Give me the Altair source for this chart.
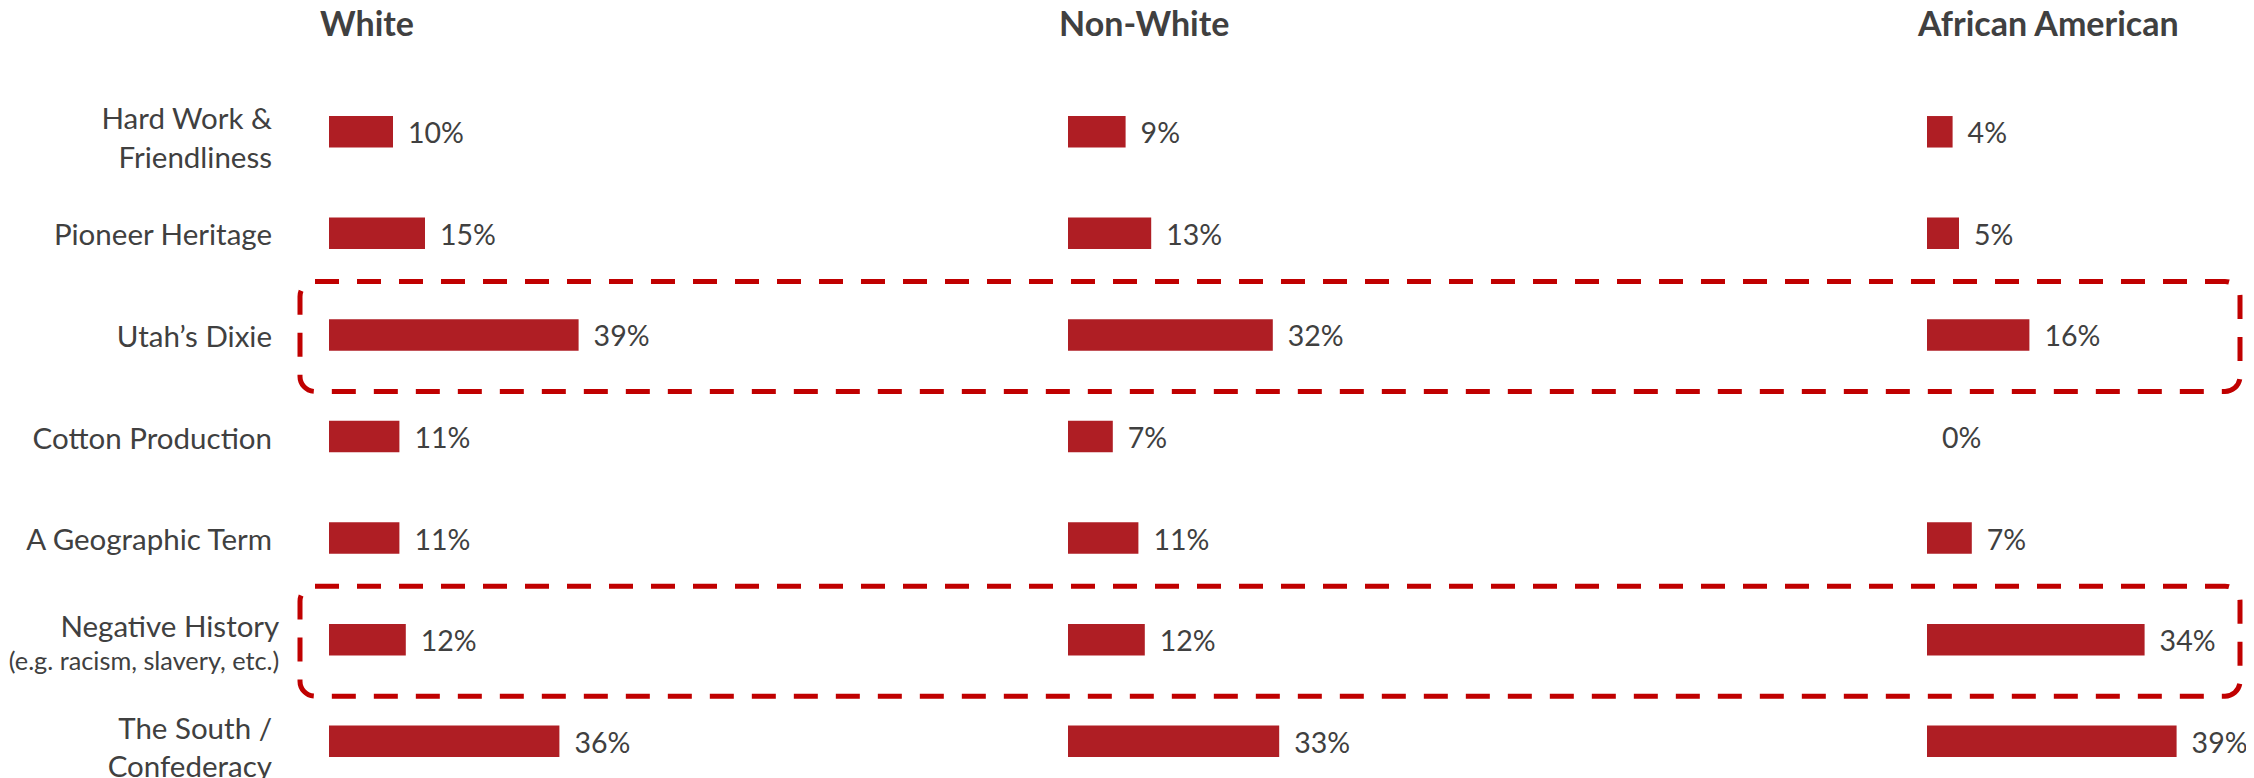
import altair as alt
import pandas as pd

# ---------------- data ----------------
categories = [
    "Hard Work & Friendliness",
    "Pioneer Heritage",
    "Utah’s Dixie",
    "Cotton Production",
    "A Geographic Term",
    "Negative History",
    "The South / Confederacy",
]
category_labels = [
    "Hard Work &\nFriendliness",
    "Pioneer Heritage",
    "Utah’s Dixie",
    "Cotton Production",
    "A Geographic Term",
    "Negative History",
    "The South /\nConfederacy",
]
category_notes = ["", "", "", "", "", "(e.g. racism, slavery, etc.)", ""]
groups = ["White", "Non-White", "African American"]
white = [10, 15, 39, 11, 11, 12, 36]
non_white = [9, 13, 32, 7, 11, 12, 33]
african_american = [4, 5, 16, 0, 7, 34, 39]
highlighted = ["Utah’s Dixie", "Negative History"]

# ---------------- style ----------------
FONT = "Lato"
TEXT = "#404040"
BAR = "#AF1E24"
BOX = "#C00000"
PX_PER_PCT = 6.4
PANEL_W = [739, 859, 315]
PLOT_H = 711
BAR_H = 31.5
LABEL_FS = 29.5
VALUE_FS = 28.5
NOTE_FS = 25.3
TITLE_FS = 34


def panel(i, name, vals):
    df = pd.DataFrame({
        "category": categories,
        "label": category_labels,
        "note": category_notes,
        "value": vals,
        "multi": ["\n" in s for s in category_labels],
        "hl": [c in highlighted for c in categories],
    })
    base = alt.Chart(df)
    y = alt.Y("category:N", sort=categories, axis=None,
              scale=alt.Scale(paddingInner=0, paddingOuter=0))
    xs = alt.Scale(domain=[0, PANEL_W[i] / PX_PER_PCT], nice=False, zero=True)
    x = alt.X("value:Q", scale=xs, axis=None)

    bars = base.mark_bar(size=BAR_H, color=BAR).encode(x=x, y=y)
    vtext = base.transform_calculate(txt="datum.value + '%'").mark_text(
        align="left", baseline="alphabetic", dx=15, dy=11.5,
        font=FONT, fontSize=VALUE_FS, color=TEXT
    ).encode(x=x, y=y, text="txt:N")
    layers = [bars, vtext]

    if i == 0:
        single = base.transform_filter("!datum.multi && datum.note == ''").mark_text(
            align="right", baseline="alphabetic", dy=12,
            font=FONT, fontSize=LABEL_FS, color=TEXT
        ).encode(x=alt.value(-57), y=y, text="label:N")
        multi = base.transform_filter("datum.multi").mark_text(
            align="right", baseline="alphabetic", dy=-2.5, lineBreak="\n", lineHeight=38.3,
            font=FONT, fontSize=LABEL_FS, color=TEXT
        ).encode(x=alt.value(-57), y=y, text="label:N")
        neg1 = base.transform_filter("datum.note != ''").mark_text(
            align="right", baseline="alphabetic", dy=-3,
            font=FONT, fontSize=LABEL_FS, color=TEXT
        ).encode(x=alt.value(-49.7), y=y, text="label:N")
        neg2 = base.transform_filter("datum.note != ''").mark_text(
            align="right", baseline="alphabetic", dy=30.3,
            font=FONT, fontSize=NOTE_FS, color=TEXT
        ).encode(x=alt.value(-49.7), y=y, text="note:N")
        box = base.transform_filter("datum.hl").mark_bar(
            size=110, fillOpacity=0, stroke=BOX, strokeWidth=5,
            strokeDash=[24, 18], cornerRadius=15, yOffset=1.5
        ).encode(x=alt.value(-29), x2=alt.value(sum(PANEL_W) - 2), y=y)
        layers += [single, multi, neg1, neg2, box]

    return alt.layer(*layers).properties(
        width=PANEL_W[i], height=PLOT_H,
        title=alt.TitleParams(
            name, anchor="start", frame="group", dx=-9, offset=11,
            baseline="alphabetic", font=FONT, fontSize=TITLE_FS, fontWeight="bold", color=TEXT
        ),
    )


panels = [panel(i, g, v) for i, (g, v) in enumerate(zip(groups, [white, non_white, african_american]))]

chart = alt.hconcat(*panels, spacing=0, bounds="flush").resolve_scale(
    x="independent"
).configure_view(stroke="transparent").properties(
    padding={"left": 0, "top": 0, "right": -3, "bottom": -11},
    background="white",
)

chart.save("out.html", embed_options={"renderer": "svg", "actions": False})
